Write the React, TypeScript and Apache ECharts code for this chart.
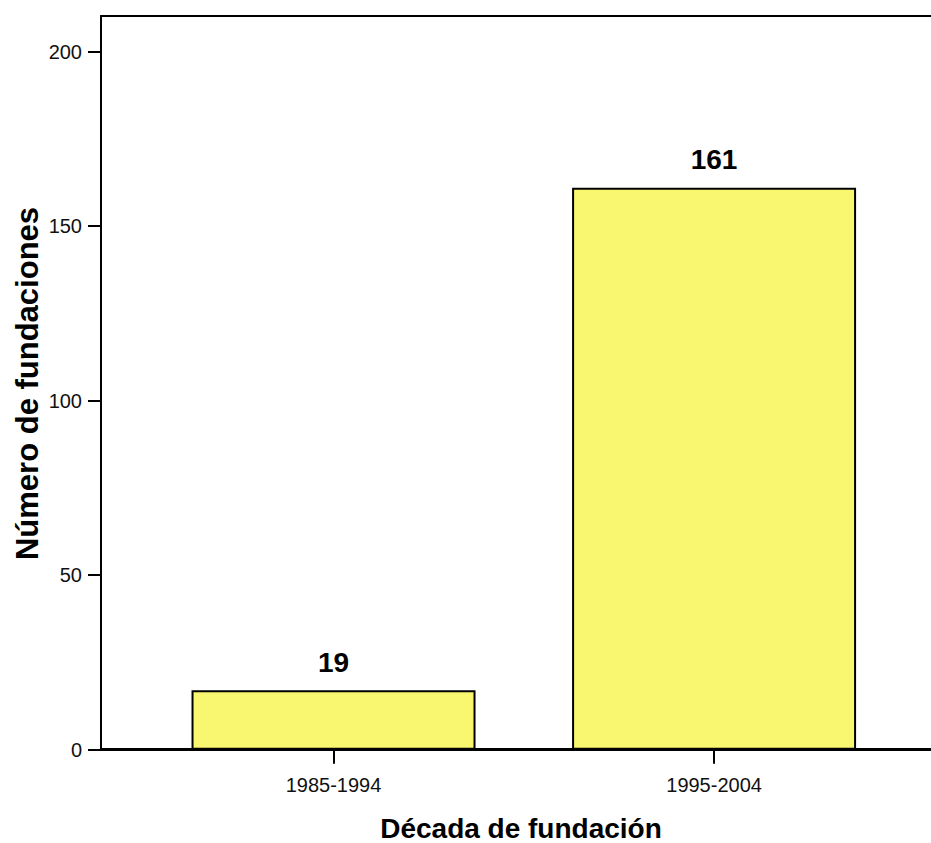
import React, { useEffect, useRef } from "react";
import * as echarts from "echarts";

const categories = ["1985-1994", "1995-2004"];
const barValues = [17, 161];
const valueLabels = ["19", "161"];
const yTicks = [0, 50, 100, 150, 200];
const xTitle = "Década de fundación";
const yTitle = "Número de fundaciones";

const FONT = "'Liberation Sans', Arial, Helvetica, sans-serif";

export default function App() {
  const ref = useRef<HTMLDivElement>(null);
  useEffect(() => {
    if (!ref.current) return;
    const chart = echarts.init(ref.current, undefined, { renderer: "svg" });
    chart.setOption({
      animation: false,
      backgroundColor: "#ffffff",
      grid: { left: 101, right: 0, top: 16, bottom: 93.3, containLabel: false },
      xAxis: [
        {
          type: "value",
          min: -0.611,
          max: 1.57,
          splitLine: { show: false },
          axisLine: { show: true, onZero: false, lineStyle: { color: "#000", width: 3 } },
          axisTick: {
            show: true,
            customValues: categories.map((_, i) => i),
            length: 14,
            lineStyle: { color: "#000", width: 2 },
          },
          axisLabel: {
            show: true,
            customValues: categories.map((_, i) => i),
            formatter: (v: number) => categories[Math.round(v)] ?? "",
            color: "#111",
            fontSize: 20,
            fontFamily: FONT,
            margin: 25,
          },
        },
        {
          type: "value",
          position: "top",
          min: -0.611,
          max: 1.57,
          splitLine: { show: false },
          axisLine: { show: true, onZero: false, lineStyle: { color: "#000", width: 2 } },
          axisTick: { show: false },
          axisLabel: { show: false },
        },
      ],
      yAxis: {
        type: "value",
        min: 0,
        max: 210.2,
        splitLine: { show: false },
        axisLine: { show: true, onZero: false, lineStyle: { color: "#000", width: 2 } },
        axisTick: {
          show: true,
          customValues: yTicks,
          length: 13,
          lineStyle: { color: "#000", width: 2 },
        },
        axisLabel: {
          show: true,
          customValues: yTicks,
          color: "#111",
          fontSize: 20,
          fontFamily: FONT,
          margin: 19,
        },
      },
      graphic: [
        {
          type: "text",
          x: 521,
          y: 828,
          style: {
            text: xTitle,
            fontSize: 28,
            fontWeight: "bold",
            fontFamily: FONT,
            fill: "#000",
            align: "center",
            verticalAlign: "middle",
          },
        },
        {
          type: "text",
          x: 27.5,
          y: 383.5,
          rotation: Math.PI / 2,
          style: {
            text: yTitle,
            fontSize: 31,
            fontWeight: "bold",
            fontFamily: FONT,
            fill: "#000",
            align: "center",
            verticalAlign: "middle",
          },
        },
      ],
      series: [
        {
          type: "bar",
          xAxisIndex: 0,
          yAxisIndex: 0,
          barWidth: 284,
          data: barValues.map((v, i) => [i, v]),
          itemStyle: { color: "#F9F770", borderColor: "#000", borderWidth: 2 },
          label: {
            show: true,
            position: "top",
            distance: 14,
            formatter: (p: any) => valueLabels[p.dataIndex],
            fontSize: 28,
            fontWeight: "bold",
            fontFamily: FONT,
            color: "#000",
          },
        },
      ],
    });
    return () => chart.dispose();
  }, []);
  return (
    <div
      ref={ref}
      style={{ position: "fixed", left: 0, top: 0, width: 931, height: 843 }}
    />
  );
}
